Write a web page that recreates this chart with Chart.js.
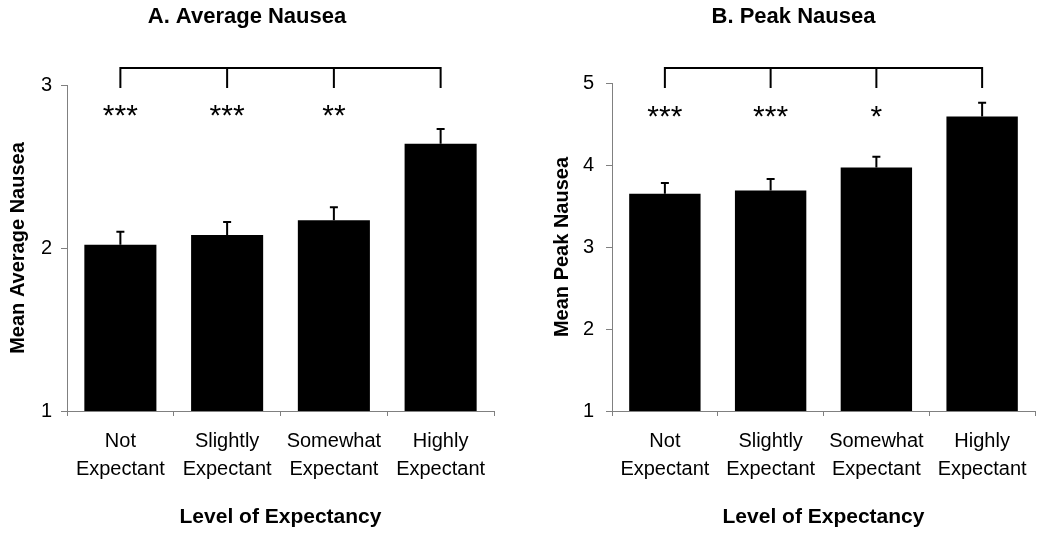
<!DOCTYPE html>
<html>
<head>
<meta charset="utf-8">
<script src="https://cdn.jsdelivr.net/npm/chart.js"></script>
<style>
  body { margin: 0; background: #fff; width: 1050px; height: 534px; position: relative; overflow: hidden; }
  .box { position: absolute; top: 0; height: 534px; }
</style>
</head>
<body>
<div class="box" style="left:0; width:500px;"><canvas id="chartA"></canvas></div>
<div class="box" style="left:552px; width:498px;"><canvas id="chartB"></canvas></div>
<script>
// categories
var groups = [['Not', 'Expectant'], ['Slightly', 'Expectant'], ['Somewhat', 'Expectant'], ['Highly', 'Expectant']];

// A. average nausea
var avgMeans = [2.02, 2.08, 2.17, 2.64];
var avgSE = [0.08, 0.08, 0.08, 0.09];
var avgStars = ['***', '***', '**', ''];
var avgTicks = [1, 2, 3];

// B. peak nausea
var peakMeans = [3.65, 3.69, 3.97, 4.59];
var peakSE = [0.13, 0.14, 0.13, 0.17];
var peakStars = ['***', '***', '*', ''];
var peakTicks = [1, 2, 3, 4, 5];

Chart.defaults.font.family = '"Liberation Sans", Arial, sans-serif';
Chart.defaults.color = '#000';

var axisGray = '#808080';

// error bars, comparison bracket and significance stars
var extras = {
  id: 'extras',
  afterDatasetsDraw: function (chart, args, opts) {
    var ctx = chart.ctx;
    var xs = chart.scales.x, ys = chart.scales.y;
    var ds = chart.data.datasets[0];
    ctx.save();
    ctx.strokeStyle = '#000';
    ctx.lineWidth = 2;
    // error bars (upper whisker only)
    ds.data.forEach(function (v, i) {
      var px = xs.getPixelForValue(i);
      var base = ys.getPixelForValue(v);
      var top = ys.getPixelForValue(v + ds.se[i]);
      ctx.beginPath();
      ctx.moveTo(px, base);
      ctx.lineTo(px, top);
      ctx.moveTo(px - 4, top);
      ctx.lineTo(px + 4, top);
      ctx.stroke();
    });
    // bracket
    var first = xs.getPixelForValue(0);
    var last = xs.getPixelForValue(ds.data.length - 1);
    ctx.beginPath();
    ctx.moveTo(first - 1, opts.bracketTop);
    ctx.lineTo(last + 1, opts.bracketTop);
    ds.data.forEach(function (v, i) {
      var px = xs.getPixelForValue(i);
      ctx.moveTo(px, opts.bracketTop);
      ctx.lineTo(px, opts.bracketBottom);
    });
    ctx.stroke();
    // stars
    ctx.fillStyle = '#000';
    ctx.font = '30px "Liberation Sans", Arial, sans-serif';
    ctx.textAlign = 'center';
    ctx.textBaseline = 'alphabetic';
    ds.stars.forEach(function (s, i) {
      ctx.fillText(s, xs.getPixelForValue(i), chart.chartArea.top + opts.starDy);
    });
    ctx.restore();
  }
};

function makeChart(id, o) {
  return new Chart(document.getElementById(id), {
    type: 'bar',
    plugins: [extras],
    data: {
      labels: groups,
      datasets: [{
        data: o.means,
        se: o.se,
        stars: o.stars,
        backgroundColor: '#000',
        borderWidth: 0,
        barPercentage: 0.675,
        categoryPercentage: 1.0
      }]
    },
    options: {
      responsive: true,
      maintainAspectRatio: false,
      animation: false,
      layout: { padding: { left: 0, right: o.padRight, top: 0, bottom: 0 } },
      plugins: {
        legend: { display: false },
        tooltip: { enabled: false },
        title: {
          display: true,
          text: o.title,
          color: '#000',
          font: { size: 22, weight: 'bold', lineHeight: 1.2 },
          padding: { top: 4, bottom: o.titleGap }
        },
        extras: { bracketTop: 68, bracketBottom: 88, starDy: o.starDy }
      },
      scales: {
        x: {
          offset: true,
          grid: { offset: true, drawOnChartArea: false, drawTicks: true, tickLength: 5, color: axisGray },
          border: { color: axisGray, width: 1 },
          ticks: { color: '#000', font: { size: 20, lineHeight: 1.385 }, padding: 12, maxRotation: 0, autoSkip: false },
          title: {
            display: true,
            text: 'Level of Expectancy',
            color: '#000',
            font: { size: 21, weight: 'bold', lineHeight: 1.2 },
            padding: { top: 0, bottom: 4 }
          },
          afterFit: function (s) { s.height = 123; }
        },
        y: {
          min: o.ticks[0],
          max: o.ticks[o.ticks.length - 1],
          afterBuildTicks: function (s) { s.ticks = o.ticks.map(function (v) { return { value: v }; }); },
          grid: { drawOnChartArea: false, drawTicks: true, tickLength: 6, color: axisGray },
          border: { color: axisGray, width: 1 },
          ticks: { color: '#000', font: { size: 20 }, padding: o.tickPad },
          title: {
            display: true,
            text: o.yTitle,
            color: '#000',
            font: { size: 20, weight: 'bold', lineHeight: o.yTitleLH },
            padding: { top: o.yTitlePad, bottom: 0 }
          },
          afterFit: function (s) { s.width = o.yWidth; }
        }
      }
    }
  });
}

var chartA = makeChart('chartA', {
  title: 'A. Average Nausea', yTitle: 'Mean Average Nausea',
  means: avgMeans, se: avgSE, stars: avgStars, ticks: avgTicks,
  padRight: 6, titleGap: 54.6, yWidth: 67, tickPad: 9, yTitleLH: 1.2, yTitlePad: 6, starDy: 40
});

var chartB = makeChart('chartB', {
  title: 'B. Peak Nausea', yTitle: 'Mean Peak Nausea',
  means: peakMeans, se: peakSE, stars: peakStars, ticks: peakTicks,
  padRight: 15, titleGap: 52.6, yWidth: 60, tickPad: 12, yTitleLH: 1.0, yTitlePad: 0, starDy: 43
});
</script>
</body>
</html>
